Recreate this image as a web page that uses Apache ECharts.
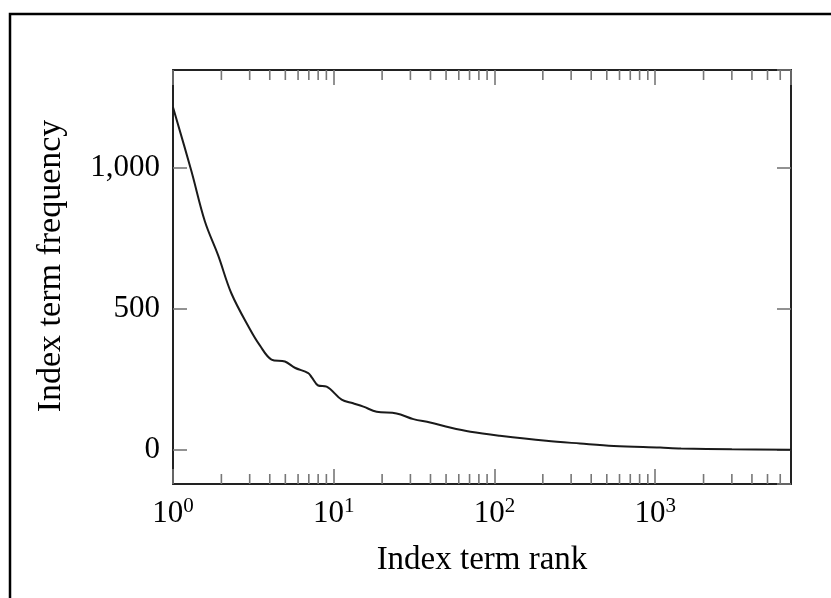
<!DOCTYPE html>
<html>
<head>
<meta charset="utf-8">
<script src="https://cdn.jsdelivr.net/npm/echarts@6/dist/echarts.min.js"></script>
<style>
  html, body { margin: 0; padding: 0; background: #fff; }
  #main { width: 831px; height: 598px; }
</style>
</head>
<body>
<div id="main"></div>
<script>
// values (rank on a log axis, frequency linear)
const rank = [1, 1.3, 1.58, 1.91, 2.31, 3.0, 3.47, 4.1, 4.97, 5.73, 6.94, 7.3, 8.0, 9.03,
  11.2, 13.2, 15.3, 18.5, 24.6, 31.3, 39.8, 52.9, 70.9, 108, 210, 341, 552, 1074, 1450, 3000, 7000];
const freq = [1215, 990, 810, 690, 555, 430, 371, 321, 314, 292, 273, 258, 229, 225,
  179, 166, 154, 136, 130, 110, 98, 80, 65, 51, 33, 23.5, 15, 9, 6, 3, 1];

// minor tick positions of the log axis
const minorTicks = [2, 3, 4, 5, 6, 7, 8, 9, 20, 30, 40, 50, 60, 70, 80, 90,
  200, 300, 400, 500, 600, 700, 800, 900, 2000, 3000, 4000, 5000, 6000];

const X_MIN = 1, X_MAX = 7000;
const Y_MIN = -120, Y_MAX = 1347;

const FONT = "Liberation Serif";
const LINE = "#222";
const TICK = "#777";
const TEXT = "#000";

const chart = echarts.init(document.getElementById("main"));

const xAxisBase = {
  type: "log",
  logBase: 10,
  min: X_MIN,
  max: X_MAX,
  splitLine: { show: false },
  axisLine: { show: true, onZero: false, lineStyle: { color: LINE, width: 2 } },
  axisTick: { show: true, inside: true, length: 15, lineStyle: { color: TICK, width: 1.6 } },
};

const yAxisBase = {
  type: "value",
  min: Y_MIN,
  max: Y_MAX,
  splitNumber: 3,
  splitLine: { show: false },
  axisLine: { show: true, onZero: false, lineStyle: { color: LINE, width: 2 } },
  axisTick: { show: true, inside: true, length: 14, lineStyle: { color: TICK, width: 1.6 } },
};

const option = {
  animation: false,
  backgroundColor: "#fff",
  graphic: [
    {
      type: "rect",
      shape: { x: 10, y: 14, width: 900, height: 700 },
      style: { fill: "none", stroke: "#000", lineWidth: 2.5 },
      silent: true,
    },
  ],
  grid: { left: 173, top: 70, right: 40, bottom: 114 },
  xAxis: [
    {
      ...xAxisBase,
      position: "bottom",
      name: "Index term rank",
      nameLocation: "middle",
      nameGap: 60,
      nameTextStyle: { fontFamily: FONT, fontSize: 33, color: TEXT },
      axisLabel: {
        margin: 12,
        showMaxLabel: false,
        fontFamily: FONT,
        fontSize: 31,
        color: TEXT,
        formatter: function (v) {
          const e = Math.round(Math.log10(v));
          if (Math.abs(Math.log10(v) - e) > 1e-6) return "";
          return "10{sup|" + e + "}";
        },
        rich: {
          sup: { fontFamily: FONT, fontSize: 21, color: TEXT, verticalAlign: "bottom", padding: [0, 0, 14, 0] },
        },
      },
    },
    {
      ...xAxisBase,
      position: "top",
      axisLabel: { show: false },
    },
  ],
  yAxis: [
    {
      ...yAxisBase,
      position: "left",
      name: "Index term frequency",
      nameLocation: "middle",
      nameGap: 105,
      nameTextStyle: { fontFamily: FONT, fontSize: 34, color: TEXT, padding: [0, 0, 0, 22] },
      axisLabel: {
        margin: 13,
        showMinLabel: false,
        showMaxLabel: false,
        fontFamily: FONT,
        fontSize: 31,
        color: TEXT,
        formatter: function (v) {
          return v.toLocaleString("en-US");
        },
      },
    },
    {
      ...yAxisBase,
      position: "right",
      axisLabel: { show: false },
    },
  ],
  series: [
    {
      name: "frequency",
      type: "line",
      data: rank.map((r, i) => [r, freq[i]]),
      smooth: 0.35,
      showSymbol: false,
      lineStyle: { color: "#1a1a1a", width: 2 },
      z: 3,
    },
    {
      name: "minor ticks",
      type: "custom",
      silent: true,
      clip: false,
      data: minorTicks.map((v) => [v, 0]),
      encode: { x: 0, y: 1 },
      renderItem: function (params, api) {
        const v = api.value(0);
        const b = api.coord([v, Y_MIN]);
        const t = api.coord([v, Y_MAX]);
        const style = { stroke: TICK, lineWidth: 1.6 };
        return {
          type: "group",
          children: [
            { type: "line", shape: { x1: b[0], y1: b[1], x2: b[0], y2: b[1] - 10 }, style: style },
            { type: "line", shape: { x1: t[0], y1: t[1], x2: t[0], y2: t[1] + 10 }, style: style },
          ],
        };
      },
    },
  ],
};

chart.setOption(option);
</script>
</body>
</html>
